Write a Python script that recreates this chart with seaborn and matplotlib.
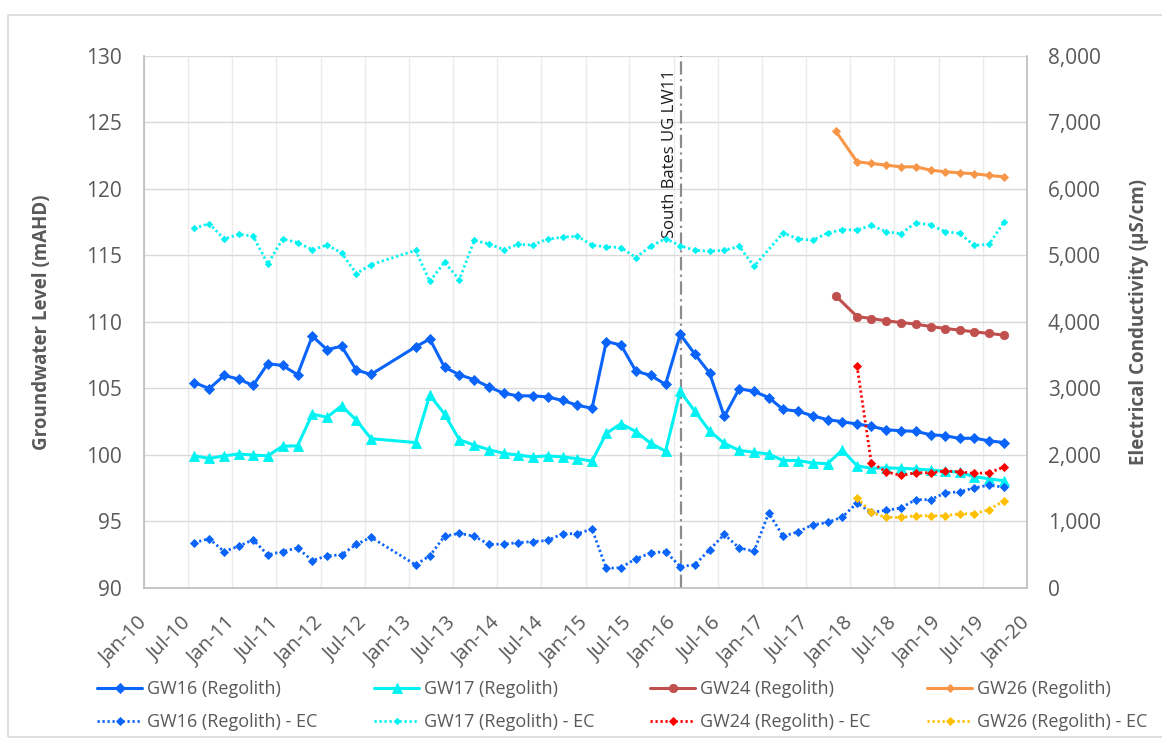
import pandas as pd
import numpy as np
import seaborn as sns
import matplotlib
matplotlib.use("Agg")
import matplotlib.pyplot as plt
import matplotlib.dates as mdates
from matplotlib.ticker import MultipleLocator, StrMethodFormatter
from matplotlib.patches import Rectangle

# sampling dates (about every 2 months)
dates_main = [
    "2010-07-28", "2010-09-28", "2010-11-28",
    "2011-01-28", "2011-03-28", "2011-05-28", "2011-07-28", "2011-09-28", "2011-11-28",
    "2012-01-28", "2012-03-28", "2012-05-28", "2012-07-28",
    "2013-01-28", "2013-03-28", "2013-05-28", "2013-07-28", "2013-09-28", "2013-11-28",
    "2014-01-28", "2014-03-28", "2014-05-28", "2014-07-28", "2014-09-28", "2014-11-28",
    "2015-01-28", "2015-03-28", "2015-05-28", "2015-07-28", "2015-09-28", "2015-11-28",
    "2016-01-28", "2016-03-28", "2016-05-28", "2016-07-28", "2016-09-28", "2016-11-28",
    "2017-01-28", "2017-03-28", "2017-05-28", "2017-07-28", "2017-09-28", "2017-11-28",
    "2018-01-28", "2018-03-28", "2018-05-28", "2018-07-28", "2018-09-28", "2018-11-28",
    "2019-01-28", "2019-03-28", "2019-05-28", "2019-07-28", "2019-09-28",
]
dates_new = [
    "2017-11-01", "2018-01-28", "2018-03-28", "2018-05-28", "2018-07-28", "2018-09-28",
    "2018-11-28", "2019-01-28", "2019-03-28", "2019-05-28", "2019-07-28", "2019-09-28",
]
dates_new_ec = dates_new[1:]

# groundwater level (mAHD)
gw16 = [105.44, 104.98, 105.97, 105.70, 105.22, 106.86, 106.72, 106.03, 108.93, 107.91, 108.17, 106.38, 106.05,
        108.12, 108.71, 106.59, 106.03, 105.65, 105.11,
        104.63, 104.44, 104.44, 104.36, 104.09, 103.74,
        103.50, 108.52, 108.26, 106.30, 105.97, 105.30,
        109.06, 107.58, 106.16, 102.89, 104.98, 104.77,
        104.31, 103.42, 103.29, 102.94, 102.65, 102.50,
        102.32, 102.15, 101.89, 101.82, 101.77, 101.52,
        101.44, 101.24, 101.26, 101.06, 100.93]
gw17 = [99.93, 99.74, 99.93, 100.07, 99.99, 99.93, 100.66, 100.68, 103.07, 102.83, 103.69, 102.62, 101.22,
        100.93, 104.50, 103.07, 101.14, 100.74, 100.39,
        100.12, 99.99, 99.85, 99.93, 99.85, 99.72,
        99.53, 101.62, 102.35, 101.76, 100.87, 100.28,
        104.77, 103.29, 101.81, 100.87, 100.34, 100.20,
        100.07, 99.58, 99.58, 99.40, 99.34, 100.36,
        99.19, 98.99, 99.03, 98.99, 98.95, 98.86,
        98.78, 98.70, 98.36, 98.21, 98.05]
gw24 = [111.95, 110.40, 110.25, 110.08, 109.95, 109.83, 109.65, 109.50, 109.38, 109.25, 109.13, 109.00]
gw26 = [124.33, 122.03, 121.90, 121.78, 121.65, 121.65, 121.40, 121.28, 121.20, 121.13, 121.00, 120.90]

# electrical conductivity (uS/cm)
gw16_ec = [682, 741, 548, 628, 725, 499, 548, 601, 413, 483, 499, 655, 762,
           349, 483, 778, 821, 778, 655,
           660, 682, 698, 714, 816, 816,
           886, 295, 306, 440, 526, 548,
           322, 349, 574, 805, 601, 553,
           1127, 778, 843, 950, 985, 1066,
           1278, 1136, 1167, 1202, 1328, 1328,
           1429, 1444, 1505, 1545, 1515]
gw17_ec = [5407, 5476, 5245, 5315, 5288, 4870, 5245, 5192, 5084, 5154, 5036, 4725, 4859,
           5074, 4607, 4897, 4633, 5224, 5170,
           5084, 5165, 5154, 5245, 5272, 5288,
           5154, 5127, 5117, 4966, 5138, 5251,
           5144, 5074, 5063, 5075, 5135, 4835,
           None, 5335, 5250, 5225, 5335, 5385,
           5380, 5450, 5355, 5325, 5490, 5455,
           5355, 5330, 5150, 5165, 5500]
gw24_ec = [3340, 1884, 1747, 1692, 1732, 1732, 1758, 1747, 1722, 1732, 1818]
gw26_ec = [1354, 1136, 1061, 1061, 1086, 1086, 1086, 1116, 1116, 1177, 1313]

lw11_date = "2016-02-01"

sns.set_theme(style="white")
plt.rcParams['font.family'] = ['Open Sans', 'DejaVu Sans']
grey = "#595959"

fig = plt.figure(figsize=(11.62, 7.40), dpi=100)
ax = fig.add_axes([144 / 1162, 1 - 588 / 740, (1027 - 144) / 1162, (588 - 55.7) / 740])
ax2 = ax.twinx()


def draw(axis, dates, values, color, marker, ms, ls, lw):
    df = pd.DataFrame({"date": pd.to_datetime(dates), "val": values}).dropna()
    sns.lineplot(data=df, x="date", y="val", ax=axis, color=color, marker=marker,
                 markersize=ms, markeredgewidth=0.6, markeredgecolor=color,
                 linestyle=ls, linewidth=lw, sort=False)
    return axis.lines[-1]


solid = [
    ("GW16 (Regolith)", dates_main, gw16, "#0A64FA", "D", 5.0),
    ("GW17 (Regolith)", dates_main, gw17, "#00F2F2", "^", 6.5),
    ("GW24 (Regolith)", dates_new, gw24, "#C0504D", "o", 6.0),
    ("GW26 (Regolith)", dates_new, gw26, "#F79646", "D", 4.0),
]
dotted = [
    ("GW16 (Regolith) - EC", dates_main, gw16_ec, "#0A64FA", "D", 4.0),
    ("GW17 (Regolith) - EC", dates_main, gw17_ec, "#00F2F2", "D", 3.2),
    ("GW24 (Regolith) - EC", dates_new_ec, gw24_ec, "#FF0000", "D", 4.0),
    ("GW26 (Regolith) - EC", dates_new_ec, gw26_ec, "#FFC000", "D", 4.0),
]

handles = []
for label, d, v, c, m, ms in solid:
    handles.append((draw(ax, d, v, c, m, ms, "-", 2.2), label))
ec_handles = []
for label, d, v, c, m, ms in dotted:
    ec_handles.append((draw(ax2, d, v, c, m, ms, (0, (0.8, 1.0)), 2.0), label))

# mining line
ax.axvline(pd.to_datetime(lw11_date), color="#8C8C8C", linewidth=1.6,
           linestyle=(0, (6, 2, 1, 2)), zorder=1)
ax.annotate("South Bates UG LW11", xy=(pd.to_datetime(lw11_date), 130), xytext=(-2, -10),
            textcoords="offset points", rotation=90, ha="right", va="top",
            fontsize=12, color="#1A1A1A")

# axes
ax.set_xlim(pd.to_datetime("2010-01-01"), pd.to_datetime("2020-01-01"))
ax.set_ylim(90, 130)
ax2.set_ylim(0, 8000)
ax.yaxis.set_major_locator(MultipleLocator(5))
ax2.yaxis.set_major_locator(MultipleLocator(1000))
ax2.yaxis.set_major_formatter(StrMethodFormatter("{x:,.0f}"))
ax.xaxis.set_major_locator(mdates.MonthLocator(bymonth=[1, 7]))
ax.xaxis.set_major_formatter(mdates.DateFormatter("%b-%y"))

ax.grid(axis="y", color="#D9D9D9", linewidth=1.0)
ax.grid(axis="x", color="#EBEBEB", linewidth=1.0)
ax.set_axisbelow(True)
ax2.grid(False)

for a in (ax, ax2):
    for s in a.spines.values():
        s.set_visible(False)
ax.spines["left"].set_visible(True)
ax.spines["bottom"].set_visible(True)
ax2.spines["right"].set_visible(True)
ax.spines["left"].set_color("#BFBFBF")
ax.spines["bottom"].set_color("#BFBFBF")
ax2.spines["right"].set_color("#BFBFBF")

ax.tick_params(axis="y", length=0, pad=16, labelsize=15, labelcolor=grey)
ax2.tick_params(axis="y", length=0, pad=15, labelsize=15, labelcolor=grey)
ax.tick_params(axis="x", length=0, pad=23, labelsize=14.5, labelcolor=grey)
plt.setp(ax.get_xticklabels(), rotation=45, ha="right", va="center", rotation_mode="anchor")

ax.set_xlabel("")
ax.set_ylabel("Groundwater Level (mAHD)", fontsize=13.5, fontweight="bold", color=grey)
ax2.set_ylabel("Electrical Conductivity (µS/cm)", fontsize=13.5, fontweight="bold", color=grey)
ax.yaxis.set_label_coords(-0.104, 0.5)
ax2.yaxis.set_label_coords(1.116, 0.5)

# legend, one column per well
col_x = [97, 374, 650, 927]
for i in range(4):
    h1, l1 = handles[i]
    h2, l2 = ec_handles[i]
    leg = fig.legend([h1, h2], [l1, l2], loc="upper left",
                     bbox_to_anchor=(col_x[i] / 1162, 1 - 680 / 740),
                     frameon=False, fontsize=13, handlelength=2.5, handletextpad=0.25,
                     borderpad=0, borderaxespad=0, labelspacing=0.85)
    for t in leg.get_texts():
        t.set_color(grey)

# chart area border
fig.patches.append(Rectangle((8 / 1162, 3 / 740), 1.2, 722 / 740, transform=fig.transFigure,
                             fill=False, edgecolor="#D9D9D9", linewidth=1.2))

fig.savefig("out.png", dpi=100)
